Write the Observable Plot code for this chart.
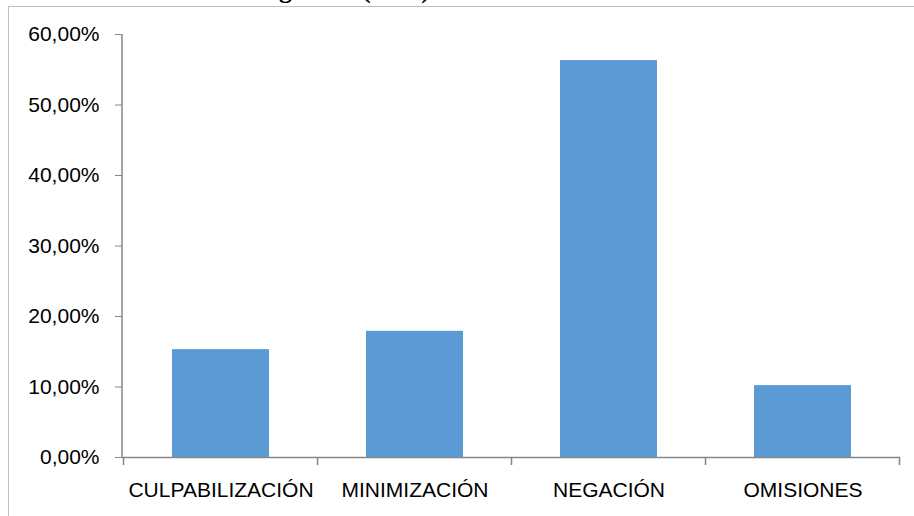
<!DOCTYPE html>
<html><head><meta charset="utf-8">
<script src="https://cdn.jsdelivr.net/npm/d3@7"></script>
<script src="https://cdn.jsdelivr.net/npm/@observablehq/plot@0.6"></script>
<style>
body{margin:0;background:#fff;}
#wrap{position:relative;width:914px;height:516px;overflow:hidden;background:#fff;}
#title{position:absolute;left:14px;top:-23px;font:bold 26px "Liberation Serif",serif;line-height:26px;white-space:nowrap;color:#000;}
#frame{position:absolute;left:8px;top:6px;width:940px;height:540px;border-left:1px solid #bfbfbf;border-top:1px solid #bfbfbf;}
#chart{position:absolute;left:0;top:0;}
</style></head>
<body>
<div id="wrap">
  <div id="title">Gráfico 1: Distorsión cognitiva (total)</div>
  <div id="frame"></div>
  <div id="chart"></div>
</div>
<script>
const categories = ["CULPABILIZACIÓN", "MINIMIZACIÓN", "NEGACIÓN", "OMISIONES"];
const values = [0.153, 0.179, 0.563, 0.102];
const yTicks = [0, 0.1, 0.2, 0.3, 0.4, 0.5, 0.6];

const data = categories.map((c, i) => ({cat: c, value: values[i]}));
const fmt = d => (d * 100).toFixed(2).replace(".", ",") + "%";
const axisColor = "#868686";

const plot = Plot.plot({
  width: 914, height: 516,
  marginLeft: 122, marginRight: 14, marginTop: 34, marginBottom: 59,
  style: {fontFamily: '"Liberation Sans Narrow", "Liberation Sans", sans-serif', fontSize: "21px", color: "#000", background: "transparent", overflow: "visible"},
  x: {domain: categories, paddingInner: 0.5, paddingOuter: 0.25, label: null},
  y: {domain: [0, 0.6], ticks: yTicks, label: null, tickFormat: fmt},
  marks: [
    Plot.barY(data, {x: "cat", y: "value", fill: "#5B9BD5"}),
    Plot.ruleY([0], {stroke: axisColor, strokeWidth: 1.5}),
    Plot.axisY({ticks: yTicks, tickFormat: fmt, tickSize: 7, tickPadding: 16, stroke: axisColor, label: null}),
    Plot.axisX({tickSize: 0, tickPadding: 25, label: null})
  ]
});

const xs = plot.scale("x"), ys = plot.scale("y");
const step = xs.step ?? (xs.range[1] - xs.range[0]) / (categories.length - xs.paddingInner + 2 * xs.paddingOuter);
const bw = xs.bandwidth ?? step * (1 - xs.paddingInner);
const bounds = categories.map(c => xs.apply(c) - (step - bw) / 2);
bounds.push(bounds[bounds.length - 1] + step);
const y0 = ys.apply(0), yTop = ys.apply(0.6);
const g = d3.select(plot).append("g").attr("stroke", axisColor).attr("stroke-width", 1.5);
g.selectAll("line.xt").data(bounds).join("line").attr("class", "xt")
  .attr("x1", d => d).attr("x2", d => d).attr("y1", y0).attr("y2", y0 + 8);
g.append("line").attr("x1", xs.range[0]).attr("x2", xs.range[0]).attr("y1", yTop).attr("y2", y0);

document.getElementById("chart").appendChild(plot);
</script>
</body></html>
